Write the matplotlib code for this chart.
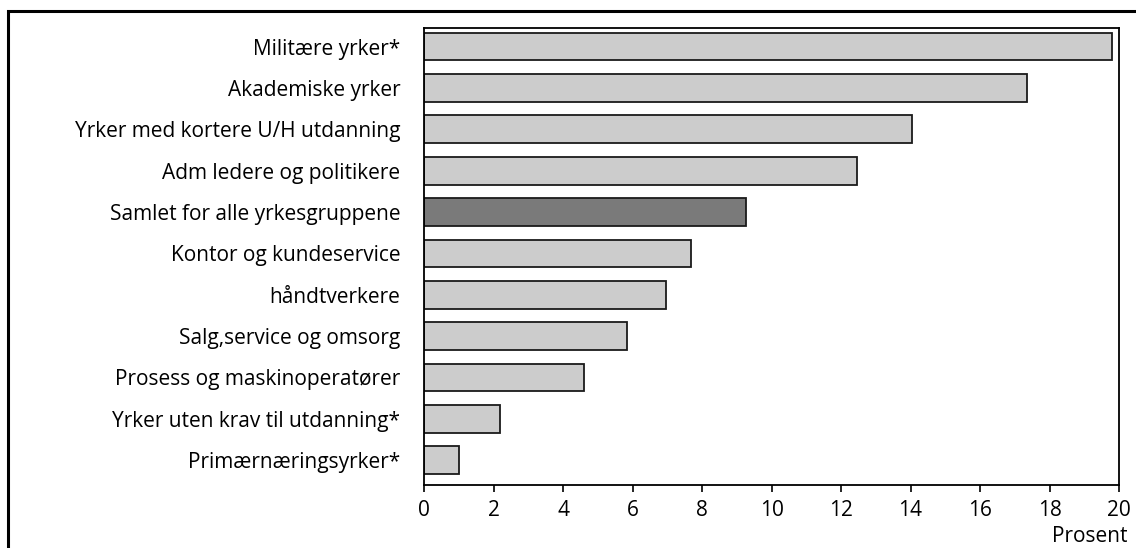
import matplotlib
matplotlib.use("Agg")
import matplotlib.pyplot as plt
from matplotlib.patches import Rectangle

plt.rcParams['font.family'] = ['Open Sans', 'DejaVu Sans']

categories = [
    "Militære yrker*",
    "Akademiske yrker",
    "Yrker med kortere U/H utdanning",
    "Adm ledere og politikere",
    "Samlet for alle yrkesgruppene",
    "Kontor og kundeservice",
    "håndtverkere",
    "Salg,service og omsorg",
    "Prosess og maskinoperatører",
    "Yrker uten krav til utdanning*",
    "Primærnæringsyrker*",
]
values = [19.8, 17.35, 14.05, 12.45, 9.27, 7.68, 6.97, 5.85, 4.6, 2.2, 1.0]
highlight = "Samlet for alle yrkesgruppene"
x_ticks = [0, 2, 4, 6, 8, 10, 12, 14, 16, 18, 20]
x_label = "Prosent"

W, H = 1136, 548
FS = 15
fig = plt.figure(figsize=(W / 100, H / 100), dpi=100)

# outer frame around the figure area
fig.patches.append(Rectangle((8 / W, -0.1), 1.2, 1 - 11 / H + 0.1,
                             transform=fig.transFigure, fill=False,
                             edgecolor="black", linewidth=2.2))

ax = fig.add_axes([424 / W, 1 - 485 / H, (1119 - 424) / W, (485 - 28) / H])

colors = ["#7a7a7a" if c == highlight else "#cccccc" for c in categories]
ypos = list(range(len(categories)))
ax.barh(ypos, values, height=0.67, color=colors, edgecolor="#1a1a1a",
        linewidth=1.3)

ax.set_xlim(0, 20)
ax.set_ylim(len(categories) - 0.4, -0.45)
ax.set_xticks(x_ticks)
ax.set_xticklabels([str(t) for t in x_ticks])
ax.set_yticks(ypos)
ax.set_yticklabels(categories)

ax.tick_params(axis="x", direction="out", length=5, width=1.2, pad=6,
               labelsize=FS, colors="black")
ax.tick_params(axis="y", length=0, pad=17, labelsize=FS)

for s in ax.spines.values():
    s.set_linewidth(1.3)
    s.set_color("black")

fig.text(1128 / W, 1 - 547 / H, x_label, ha="right", va="bottom",
         fontsize=FS)

fig.savefig("out.png", dpi=100)
